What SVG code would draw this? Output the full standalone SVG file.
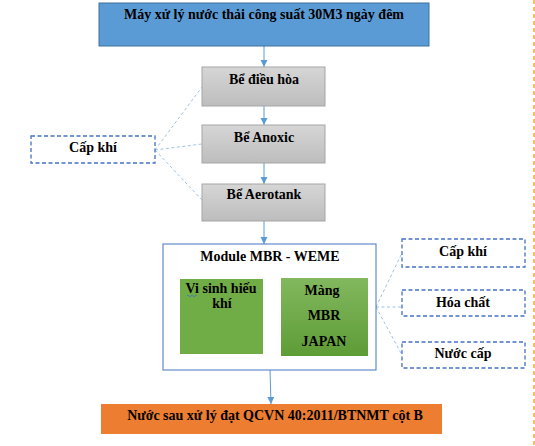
<svg xmlns="http://www.w3.org/2000/svg" width="535" height="446" viewBox="0 0 535 446">
<defs>
<linearGradient id="gray" x1="0" y1="0" x2="0" y2="1"><stop offset="0" stop-color="#D6D6D6"/><stop offset="1" stop-color="#BDBDBD"/></linearGradient>
<linearGradient id="green" x1="0" y1="0" x2="0" y2="1"><stop offset="0" stop-color="#82B85E"/><stop offset="1" stop-color="#5E9C36"/></linearGradient>
<marker id="ah" markerWidth="8" markerHeight="8" refX="7" refY="4" orient="auto" markerUnits="userSpaceOnUse"><path d="M0,0.5 L7,4 L0,7.5 Z" fill="#5B9BD5"/></marker>
<style>
text{font-family:"Liberation Serif","Times New Roman",serif;font-weight:bold;font-size:14px;fill:#000;text-anchor:middle}
.gbox{fill:url(#gray);stroke:#A5A5A5;stroke-width:1}
.dbox{fill:#fff;stroke:#4472C4;stroke-width:1.3;stroke-dasharray:4,2.5}
.conn{stroke:#5B9BD5;stroke-width:1;fill:none}
.dconn{stroke:#9DC3E6;stroke-width:1;fill:none;stroke-dasharray:3,2.5}
</style>
</defs>
<g id="connectors">
<line class="conn" x1="264" y1="46" x2="264" y2="67" marker-end="url(#ah)"/>
<line class="conn" x1="264" y1="106" x2="264" y2="125" marker-end="url(#ah)"/>
<line class="conn" x1="264" y1="163" x2="264" y2="184" marker-end="url(#ah)"/>
<line class="conn" x1="264" y1="221" x2="264" y2="244" marker-end="url(#ah)"/>
<line class="conn" x1="270" y1="370" x2="271" y2="404" marker-end="url(#ah)"/>
<path class="dconn" d="M155,150 L202,87 M155,150 L202,144 M155,150 L202,200"/>
<path class="dconn" d="M376,307 L402,253 M376,307 L402,307 M376,307 L402,355"/>
<path d="M264,317 L279,317 M273,311 L279,317 L273,323" stroke="#5B9BD5" stroke-width="2.5" fill="none"/>
<line x1="534" y1="0" x2="534" y2="446" stroke="#F59B00" stroke-width="1.3" stroke-dasharray="4,3"/>
</g>
<g id="top">
<rect x="99" y="3" width="330" height="43" fill="#5B9BD5" stroke="#41719C" stroke-width="1"/>
<text x="264" y="19">Máy xử lý nước thải công suất 30M3 ngày đêm</text>
</g>
<g id="dieuhoa">
<rect class="gbox" x="202" y="67" width="123" height="39"/>
<text x="264" y="84">Bể điều hòa</text>
</g>
<g id="anoxic">
<rect class="gbox" x="202" y="125" width="123" height="38"/>
<text x="264" y="142">Bể Anoxic</text>
</g>
<g id="aerotank">
<rect class="gbox" x="202" y="184" width="123" height="37"/>
<text x="264" y="199">Bể Aerotank</text>
</g>
<g id="capkhi-left">
<rect class="dbox" x="31" y="136" width="124" height="27"/>
<text x="93" y="152">Cấp khí</text>
</g>
<g id="module">
<rect x="163" y="244" width="213" height="126" fill="#fff" stroke="#4472C4" stroke-width="1"/>
<text x="270" y="261">Module MBR - WEME</text>
</g>
<g id="visinh">
<rect x="180" y="279" width="83" height="75" fill="#70AD47"/>
<text x="221" y="293">Vi sinh hiếu</text>
<text x="222" y="308">khí</text>
<path d="M187,296 q1,-1.5 2,0 t2,0 t2,0 t2,0 t2,0" stroke="#4472C4" stroke-width="0.8" fill="none"/>
</g>
<g id="mang">
<rect x="281" y="278" width="87" height="78" fill="url(#green)"/>
<text x="322" y="295">Màng</text>
<text x="324" y="320">MBR</text>
<text x="324" y="346">JAPAN</text>
</g>
<g id="capkhi-right">
<rect class="dbox" x="402" y="239" width="123" height="28"/>
<text x="463" y="256">Cấp khí</text>
</g>
<g id="hoachat">
<rect class="dbox" x="402" y="290" width="123" height="26"/>
<text x="463" y="307">Hóa chất</text>
</g>
<g id="nuoccap">
<rect class="dbox" x="402" y="342" width="123" height="26"/>
<text x="463" y="358">Nước cấp</text>
</g>
<g id="output">
<rect x="101" y="404" width="341" height="30" fill="#ED7D31"/>
<text x="275" y="420">Nước sau xử lý đạt QCVN 40:2011/BTNMT cột B</text>
</g>
</svg>
